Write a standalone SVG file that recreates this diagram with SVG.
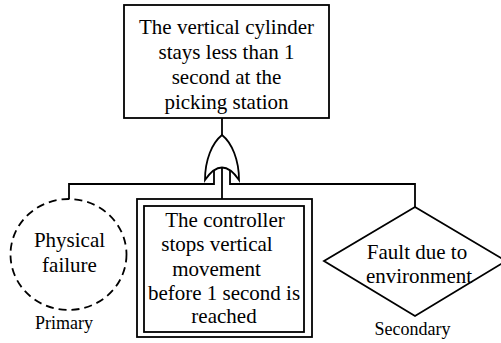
<svg xmlns="http://www.w3.org/2000/svg" width="501" height="343" viewBox="0 0 501 343">
<style>
.s{fill:none;stroke:#000;stroke-width:1.8}
.f{fill:#fff;stroke:#000;stroke-width:1.8}
.t{font-size:21px;fill:#000;text-anchor:middle}
.l{font-size:18px;fill:#000;text-anchor:middle}
</style>
<rect width="501" height="343" fill="#fff"/>
<g id="connectors">
<line class="s" x1="222" y1="118" x2="222" y2="135"/>
<line class="s" x1="222" y1="167" x2="222" y2="199"/>
<polyline class="s" points="214,171 214,184 69,184 69,199"/>
<polyline class="s" points="230,171 230,184 415,184 415,207"/>
</g>
<g font-family="Liberation Serif, DejaVu Serif, serif">
<g id="top">
<rect class="f" x="124" y="5" width="205" height="113"/>
<text class="t" x="226.5" y="34">The vertical cylinder</text>
<text class="t" x="226.5" y="59">stays less than 1</text>
<text class="t" x="226.5" y="84">second at the</text>
<text class="t" x="226.5" y="109">picking station</text>
</g>
<g id="or-gate">
<path class="f" d="M222,135 C212,143 205,160 205,180 Q222,155 239,180 C239,160 232,143 222,135 Z"/>
</g>
<g id="physical">
<ellipse cx="68.5" cy="254.5" rx="58" ry="55.5" fill="#fff" stroke="#000" stroke-width="1.8" stroke-dasharray="8,5"/>
<text class="t" x="69.5" y="247">Physical</text>
<text class="t" x="69.5" y="272">failure</text>
<text class="l" x="64" y="329">Primary</text>
</g>
<g id="controller">
<rect class="f" x="137" y="199" width="175" height="138"/>
<rect class="s" x="144" y="206" width="160" height="126"/>
<text class="t" x="225" y="227">The controller</text>
<text class="t" x="217" y="251">stops vertical</text>
<text class="t" x="216.5" y="276">movement</text>
<text class="t" x="224" y="300">before 1 second is</text>
<text class="t" x="224" y="323">reached</text>
</g>
<g id="environment">
<polygon class="f" points="415,207 506,261 415,316 324,261"/>
<text class="t" x="417" y="259">Fault due to</text>
<text class="t" x="419" y="283">environment</text>
<text class="l" x="412.5" y="335">Secondary</text>
</g>
</g>
</svg>
